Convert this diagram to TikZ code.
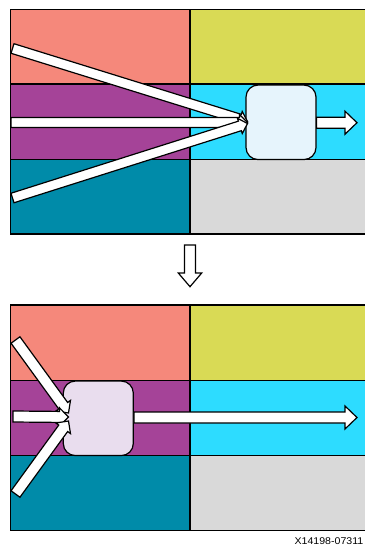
\documentclass[tikz,border=0pt]{standalone}
\usepackage{fontspec}
\setmainfont{Liberation Sans}
\usetikzlibrary{calc}
\definecolor{salmon}{HTML}{F5887B}
\definecolor{olive}{HTML}{D9DA55}
\definecolor{plum}{HTML}{A54398}
\definecolor{sky}{HTML}{2DDCFF}
\definecolor{teal}{HTML}{008BA9}
\definecolor{greyp}{HTML}{D9D9D9}
\definecolor{boxa}{HTML}{E6F4FC}
\definecolor{boxb}{HTML}{E9DDEE}
\tikzset{
  panel/.style={draw=black, line width=1.2pt},
  fat/.style={draw=black, fill=white, line width=1.2pt, line join=miter},
  rbox/.style={draw=black, line width=1.2pt, rounded corners=12pt, inner sep=0pt}
}
\newcommand{\fatarrow}[5]{%
  \draw[fat] let \p1=($(#2)-(#1)$), \n1={atan2(\y1,\x1)}, \n2={veclen(\x1,\y1)-#5} in
  ($(#1)+(\n1+90:#3)$) -- ($(#1)+(\n1:\n2)+(\n1+90:#3)$) -- ($(#1)+(\n1:\n2)+(\n1+90:#4)$) -- (#2)
  -- ($(#1)+(\n1:\n2)+(\n1-90:#4)$) -- ($(#1)+(\n1:\n2)+(\n1-90:#3)$) -- ($(#1)+(\n1-90:#3)$) -- cycle;}
\begin{document}
\begin{tikzpicture}[x=1pt,y=-1pt]
\useasboundingbox (0,0) rectangle (364,546);
\fill[white] (0,0) rectangle (364,546);
% top section panels
\draw[panel, fill=salmon] (10.5,9.5) rectangle (190,84);
\draw[panel, fill=plum] (10.5,84) rectangle (190,159.5);
\draw[panel, fill=teal] (10.5,159.5) rectangle (190,234);
\draw[panel, fill=olive] (190,9.5) rectangle (367,84);
\draw[panel, fill=sky] (190,84) rectangle (367,159.5);
\draw[panel, fill=greyp] (190,159.5) rectangle (367,234);
% bottom section panels
\draw[panel, fill=salmon] (10.5,305) rectangle (190,380.3);
\draw[panel, fill=plum] (10.5,380.3) rectangle (190,455.7);
\draw[panel, fill=teal] (10.5,455.7) rectangle (190,530.7);
\draw[panel, fill=olive] (190,305) rectangle (367,380.3);
\draw[panel, fill=sky] (190,380.3) rectangle (367,455.7);
\draw[panel, fill=greyp] (190,455.7) rectangle (367,530.7);
% boxes
\node[rbox, fill=boxa, minimum width=70pt, minimum height=74.5pt] (boxA) at (281,122.3) {};
\node[rbox, fill=boxb, minimum width=70pt, minimum height=74.5pt] (boxB) at (98.3,418.3) {};
% top arrows
\coordinate (ta1) at (12.5,48.5);
\coordinate (ta2) at (11,122.5);
\coordinate (ta3) at (12.5,198);
\coordinate (tt1) at (247.5,121.5);
\coordinate (tt2) at (247.5,122.5);
\coordinate (tt3) at (247.5,123.5);
\fatarrow{ta1}{tt1}{5pt}{8pt}{8pt}
\fatarrow{ta2}{tt2}{5pt}{8pt}{8pt}
\fatarrow{ta3}{tt3}{5pt}{8pt}{8pt}
\coordinate (tout) at (357,122.7);
\coordinate (toutS) at (boxA.east |- tout);
\fatarrow{toutS}{tout}{5.5pt}{11.5pt}{12pt}
% down arrow
\coordinate (d1) at (190,245);
\coordinate (d2) at (190,286.7);
\fatarrow{d1}{d2}{5.5pt}{11.7pt}{13.7pt}
% bottom arrows
\coordinate (ba1) at (15.5,340);
\coordinate (ba2) at (13,416.5);
\coordinate (ba3) at (15.5,494);
\coordinate (bt1) at (68.5,413);
\coordinate (bt2) at (68.5,417);
\coordinate (bt3) at (68.5,421);
\fatarrow{ba1}{bt1}{5.5pt}{9pt}{9pt}
\fatarrow{ba2}{bt2}{5.5pt}{9pt}{9pt}
\fatarrow{ba3}{bt3}{5.5pt}{9pt}{9pt}
\coordinate (bout) at (357,417.5);
\coordinate (boutS) at (boxB.east |- bout);
\fatarrow{boutS}{bout}{5.5pt}{11.5pt}{12pt}
% label
\node[anchor=base east, inner sep=0pt, font=\fontsize{9.8pt}{11pt}\selectfont, xscale=1.08] (lab) at (363.5,544) {X14198-07311};
\end{tikzpicture}
\end{document}
